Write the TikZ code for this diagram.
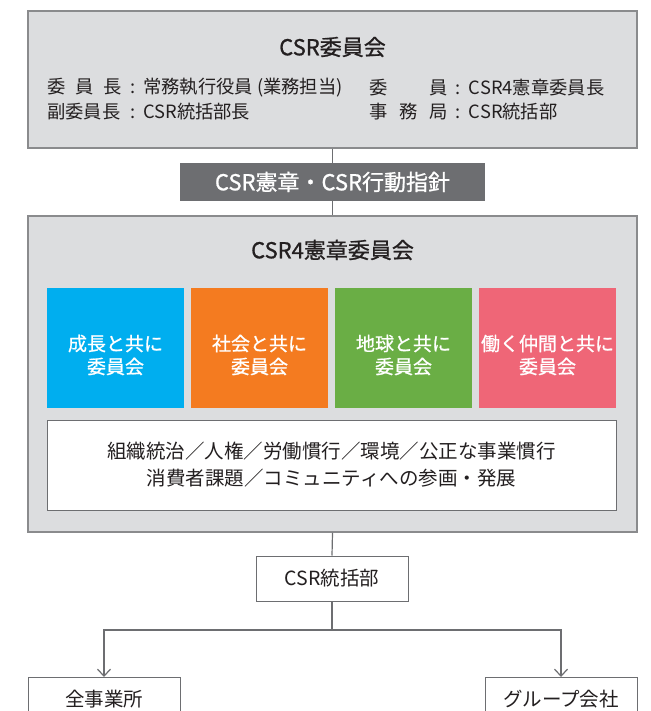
\documentclass[tikz,border=0pt]{standalone}
\usepackage{fontspec}
\setmainfont{Noto Sans CJK JP}
\newfontfamily\medfont{Noto Sans CJK JP}[FakeBold=0.9]
\usetikzlibrary{arrows.meta}
\definecolor{boxgray}{HTML}{DCDDDF}
\definecolor{edgegray}{HTML}{8A8B8D}
\definecolor{linegray}{HTML}{6D6E71}
\definecolor{banner}{HTML}{6D6E71}
\definecolor{txt}{HTML}{231F20}
\definecolor{cblue}{HTML}{00AEEF}
\definecolor{corange}{HTML}{F47B20}
\definecolor{cgreen}{HTML}{6AAE45}
\definecolor{cpink}{HTML}{EF6677}
\newcommand{\colsep}{\makebox[1.15em][c]{:}}
\tikzset{
  panel/.style={draw=edgegray,line width=1.3pt,fill=boxgray,inner sep=0pt},
  wbox/.style={draw=linegray,line width=1pt,fill=white,inner sep=0pt,text=txt,font=\fontsize{19.5}{27}\selectfont,align=center},
  cbox/.style={inner sep=0pt,minimum width=137pt,minimum height=120pt,text=white,font=\medfont\fontsize{19}{23}\selectfont,align=center},
  ttl/.style={text=txt,font=\medfont\fontsize{22}{26}\selectfont,inner sep=0pt},
  body/.style={text=txt,font=\fontsize{18.3}{21}\selectfont,inner sep=0pt,anchor=west},
  conn/.style={draw=linegray,line width=1.2pt},
  arr/.style={conn,-{Straight Barb[length=7pt,width=13pt]}}
}
\begin{document}
\begin{tikzpicture}[x=1pt,y=-1pt]
\useasboundingbox (0,0) rectangle (650,711);
% top panel
\node[panel,minimum width=609pt,minimum height=137pt] (top) at (332.5,79.5) {};
\node[ttl] (t1) at (332.5,47) {CSR委員会};
\node[body] (l1) at (47,88) {\makebox[4.1em][s]{委\hfill 員\hfill 長}\colsep 常務執行役員 (業務担当)};
\node[body] (l2) at (47,112) {\makebox[4.1em][s]{副委員長}\colsep CSR統括部長};
\node[body] (r1) at (369,88) {\makebox[4.3em][s]{委\hfill 員}\colsep CSR4憲章委員長};
\node[body] (r2) at (369,112) {\makebox[4.3em][s]{事\hfill 務\hfill 局}\colsep CSR統括部};
% banner
\node[fill=banner,inner sep=0pt,minimum width=305pt,minimum height=38pt,text=white,font=\medfont\fontsize{22}{24}\selectfont] (ban) at (332.5,182) {CSR憲章・CSR行動指針};
% middle panel
\node[panel,minimum width=609pt,minimum height=316pt] (mid) at (332.5,374) {};
\node[ttl] (t2) at (332.5,250) {CSR4憲章委員会};
\node[cbox,fill=cblue] (c1) at (115.5,348) {};
\node[cbox,fill=corange] (c2) at (259.5,348) {};
\node[cbox,fill=cgreen] (c3) at (403.5,348) {};
\node[cbox,fill=cpink] (c4) at (547.5,348) {};
\node[cbox,minimum height=0pt] (c1t) at (115.5,355) {成長と共に\\委員会};
\node[cbox,minimum height=0pt] (c2t) at (259.5,355) {社会と共に\\委員会};
\node[cbox,minimum height=0pt] (c3t) at (403.5,355) {地球と共に\\委員会};
\node[cbox,minimum height=0pt] (c4t) at (547.5,355) {働く仲間と共に\\委員会};
\node[wbox,minimum width=569pt,minimum height=90pt] (wb) at (331.5,465) {組織統治／人権／労働慣行／環境／公正な事業慣行\\消費者課題／コミュニティへの参画・発展};
% lower
\node[wbox,minimum width=152pt,minimum height=45pt] (dept) at (332,578.5) {CSR統括部};
\node[wbox,minimum width=152pt,minimum height=50pt,anchor=north] (all) at (104,677) {\raisebox{8pt}{全事業所}};
\node[wbox,minimum width=152pt,minimum height=50pt,anchor=north] (grp) at (561,677) {\raisebox{8pt}{グループ会社}};
\coordinate (split) at (332,630);
% connectors
\draw[conn] (top.south) -- (ban.north);
\draw[conn] (ban.south) -- (mid.north);
\draw[conn] (mid.south) -- (dept.north);
\draw[conn] (dept.south) -- (split);
\draw[arr] (split) -| (all.north);
\draw[arr] (split) -| (grp.north);
\end{tikzpicture}
\end{document}
